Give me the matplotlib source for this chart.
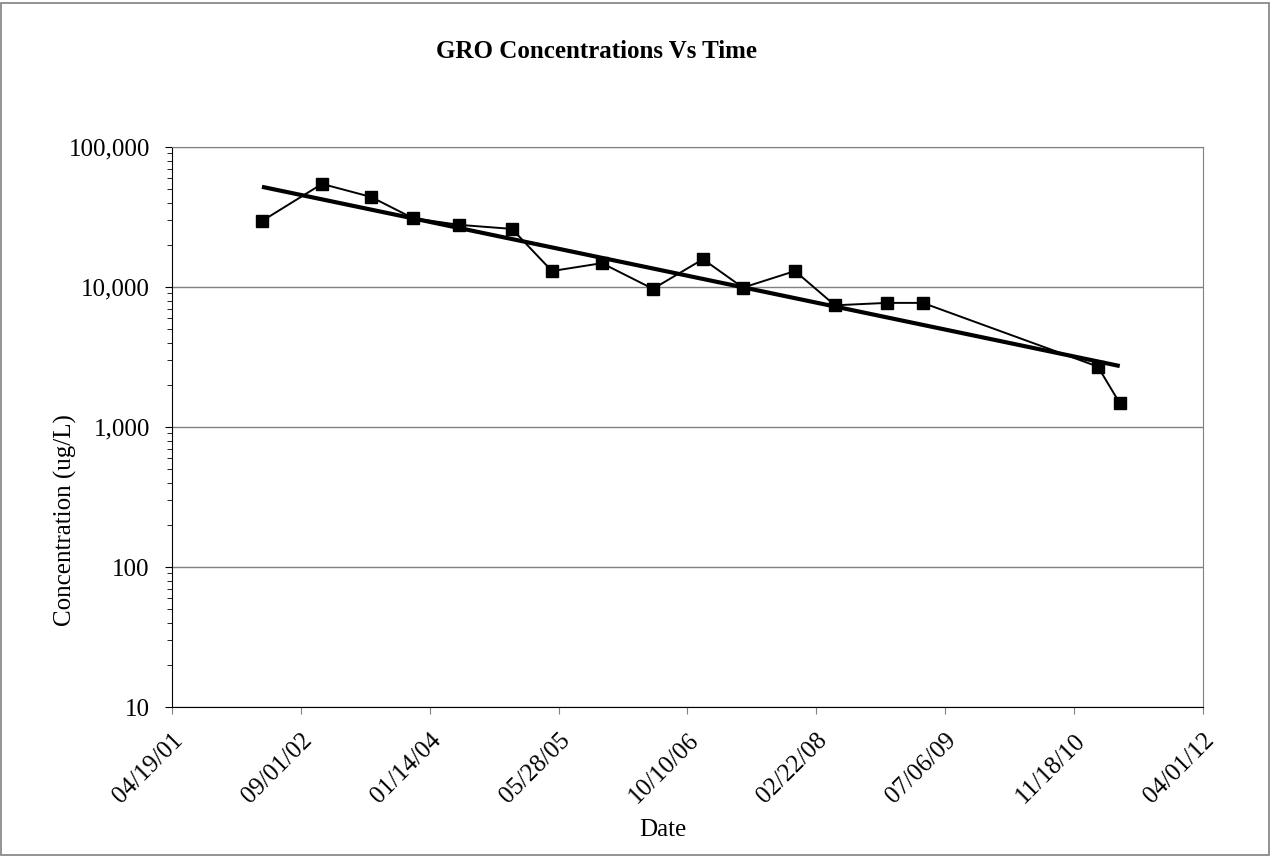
import numpy as np
import pandas as pd
import matplotlib
matplotlib.use('Agg')
import matplotlib.pyplot as plt
import matplotlib.dates as mdates
from matplotlib.ticker import FuncFormatter, LogLocator, NullFormatter
from matplotlib.patches import Rectangle

plt.rcParams['font.family'] = ['Liberation Serif', 'DejaVu Serif']

# sample dates and GRO concentrations (ug/L)
sample_dates = ['2002-04-03', '2002-11-22', '2003-05-31', '2003-11-10', '2004-05-06',
                '2004-11-28', '2005-05-02', '2005-11-12', '2006-05-29', '2006-12-09',
                '2007-05-13', '2007-12-01', '2008-05-04', '2008-11-21', '2009-04-10',
                '2011-02-18', '2011-05-14']
gro_conc = [29600, 54500, 44000, 31000, 27800,
            26000, 13000, 14800, 9700, 15800,
            9900, 13000, 7400, 7700, 7700,
            2700, 1480]

# x axis: 04/19/01 to 04/01/12, every 500 days
tick_start = '2001-04-19'
tick_step_days = 500
n_ticks = 9

dates = pd.to_datetime(sample_dates)
x = mdates.date2num(dates)
y = np.array(gro_conc, dtype=float)

# exponential trendline (fit in log space)
coef = np.polyfit(x, np.log(y), 1)
x_fit = np.array([x[0], x[-1]])
y_fit = np.exp(np.polyval(coef, x_fit))

fig = plt.figure(figsize=(12.72, 8.56), dpi=100)
ax = fig.add_axes([172/1272, 1 - 707/856, (1203-172)/1272, (707-147)/856])

ax.plot(x, y, color='black', lw=1.4, marker='s', markersize=8.5, zorder=3)
ax.plot(x_fit, y_fit, color='black', lw=3.0, zorder=4, solid_capstyle='butt')

ax.set_yscale('log')
ax.set_ylim(10, 100000)
ax.yaxis.set_major_locator(LogLocator(base=10))
ax.yaxis.set_minor_locator(LogLocator(base=10, subs=np.arange(2, 10)))
ax.yaxis.set_minor_formatter(NullFormatter())
ax.yaxis.set_major_formatter(FuncFormatter(lambda v, p: '{:,.0f}'.format(v)))
ax.grid(axis='y', which='major', color='#808080', lw=1)

t0 = mdates.date2num(pd.Timestamp(tick_start))
ticks = t0 + tick_step_days * np.arange(n_ticks)
ax.set_xlim(ticks[0], ticks[-1])
ax.set_xticks(ticks)
ax.set_xticklabels([mdates.num2date(t).strftime('%m/%d/%y') for t in ticks],
                   rotation=45, ha='right', va='top', rotation_mode='anchor')

ax.tick_params(axis='both', which='major', direction='out', length=5, labelsize=18, colors='black')
ax.tick_params(axis='x', which='major', color='#808080', pad=11)
ax.tick_params(axis='y', which='major', pad=11)
ax.tick_params(axis='y', which='minor', direction='out', length=3.5)

for s in ['top', 'right']:
    ax.spines[s].set_color('#808080')
for s in ['left', 'bottom']:
    ax.spines[s].set_color('black')

ax.set_xlabel('Date', fontsize=18)
ax.xaxis.set_label_coords(0.476, -0.2)
ax.set_ylabel('Concentration (ug/L)', fontsize=18)
ax.yaxis.set_label_coords(-0.092, 0.334)
fig.text(596/1272, 1 - 52/856, 'GRO Concentrations Vs Time', fontsize=18, fontweight='bold',
         ha='center', va='center')

fig.add_artist(Rectangle((0.001, 0.001), 0.997, 0.996, transform=fig.transFigure,
                         fill=False, edgecolor='#808080', lw=1.2))

fig.savefig('out.png', dpi=100)
